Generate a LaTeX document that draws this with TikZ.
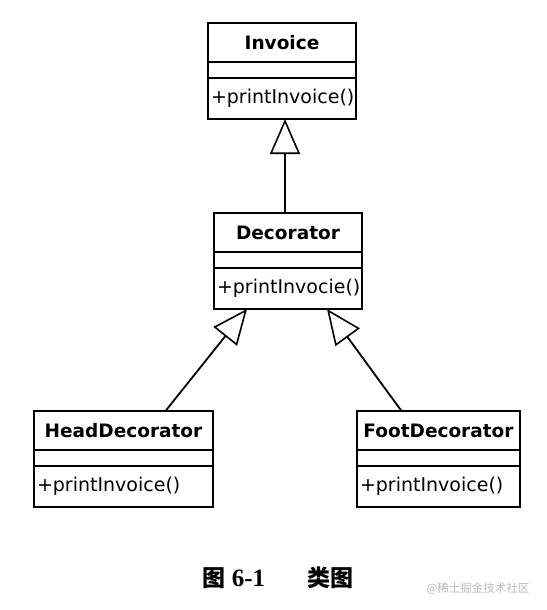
\documentclass[tikz,border=0pt]{standalone}
\usepackage{fontspec}
\setmainfont{DejaVu Sans}
\newfontfamily\cjk{Noto Sans CJK SC}
\newfontfamily\capserif{Liberation Serif}
\usetikzlibrary{positioning, arrows.meta}

\newcommand\umlfont{\fontsize{19}{22}\selectfont}
\newcommand\umlbold{\fontsize{18.5}{22}\selectfont\bfseries}

\begin{document}
\begin{tikzpicture}[x=1pt, y=-1pt]
	\tikzset{
		cname/.style={draw, line width=1.8pt, outer sep=0pt, inner sep=0pt, minimum width=#1, minimum height=39pt, font=\umlbold},
		cattr/.style={draw, line width=1.8pt, outer sep=0pt, inner sep=0pt, minimum width=#1, minimum height=16pt},
		cmeth/.style={draw, line width=1.8pt, outer sep=0pt, inner xsep=3pt, inner ysep=0pt, text width=#1, minimum height=41pt, align=left, font=\umlfont},
		inherit/.style={line width=1.8pt, -{Triangle[open, length=35pt, width=30pt, line width=1.6pt]}}
	};

	\useasboundingbox (0,0) rectangle (546,610);

	% Invoice
	\node[cname=148pt, anchor=north] (inv) at (282,23) {Invoice};
	\node[cattr=148pt, below=0pt of inv] (inv-a) {};
	\node[cmeth=142pt, below=0pt of inv-a] (inv-m) {+printInvoice()};

	% Decorator
	\node[cname=148pt, anchor=north] (dec) at (288,213) {Decorator};
	\node[cattr=148pt, below=0pt of dec] (dec-a) {};
	\node[cmeth=142pt, below=0pt of dec-a] (dec-m) {+printInvocie()};

	% HeadDecorator
	\node[cname=179pt, anchor=north] (hd) at (123.5,411) {HeadDecorator};
	\node[cattr=179pt, below=0pt of hd] (hd-a) {};
	\node[cmeth=173pt, below=0pt of hd-a] (hd-m) {+printInvoice()};

	% FootDecorator
	\node[cname=163pt, anchor=north] (fd) at (438.5,411) {FootDecorator};
	\node[cattr=163pt, below=0pt of fd] (fd-a) {};
	\node[cmeth=157pt, below=0pt of fd-a] (fd-m) {+printInvoice()};

	\draw[inherit] ([xshift=-3pt]dec.north) -- ([xshift=-3pt]dec.north |- inv-m.south);
	\draw[inherit] ([xshift=42pt]hd.north) -- ([xshift=-41pt]dec-m.south);
	\draw[inherit] ([xshift=-37pt]fd.north) -- ([xshift=39pt]dec-m.south);

	% caption
	\node[font=\fontsize{23}{26}\selectfont] (cap) at (278,578)
		{{\cjk\bfseries 图}\hspace{6pt}{\capserif\bfseries\fontsize{25}{26}\selectfont 6-1}\hspace{42pt}{\cjk\bfseries 类图}};
	\node[font=\cjk\fontsize{11.5}{13}\selectfont, text=gray!55] (wm) at (478,589) {@稀土掘金技术社区};
\end{tikzpicture}
\end{document}
